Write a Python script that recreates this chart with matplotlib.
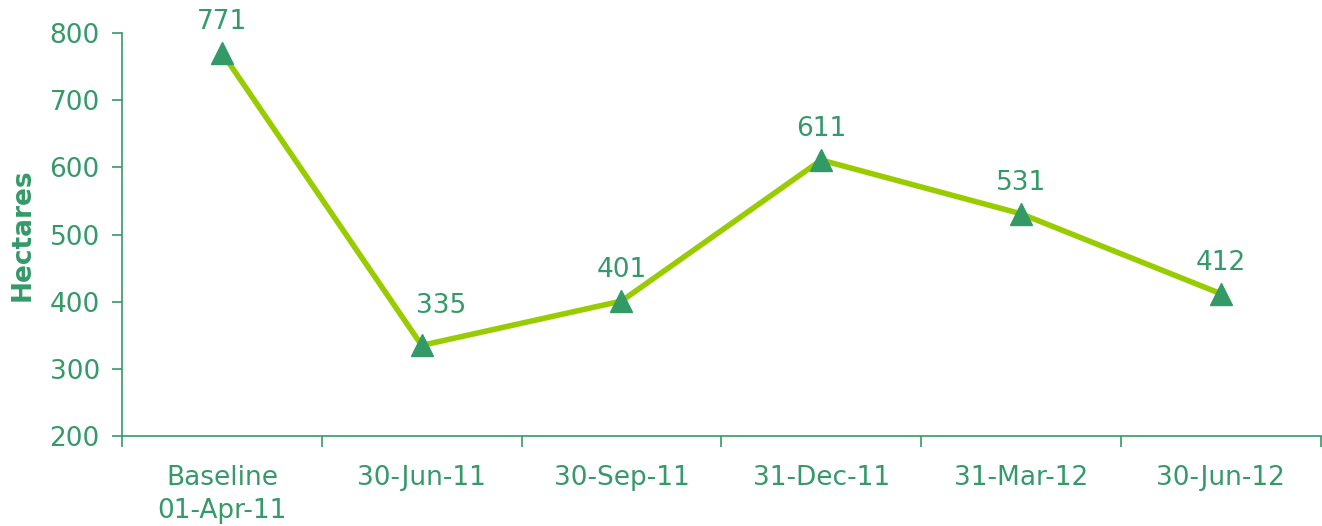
import matplotlib.pyplot as plt
import numpy as np

categories = ["Baseline\n01-Apr-11", "30-Jun-11", "30-Sep-11", "31-Dec-11", "31-Mar-12", "30-Jun-12"]
hectares = [771, 335, 401, 611, 531, 412]

text_green = "#35996A"
line_green = "#99CC00"
marker_green = "#339966"

plt.rcParams['font.family'] = ['DejaVu Sans']

fig = plt.figure(figsize=(13.22, 5.26), dpi=100)
ax = fig.add_axes([0.0923, 0.171, 0.9067, 0.766])

x = np.arange(len(categories))
ax.plot(x, hectares, color=line_green, linewidth=4, zorder=2)
ax.plot(x, hectares, linestyle='none', marker='^', markersize=16,
        color=marker_green, zorder=3)

# label offsets in points (the 335 label is nudged off the line, as in the original)
label_offsets = [(0, 13), (14, 19), (0, 13), (0, 13), (0, 13), (0, 13)]
for xi, v, off in zip(x, hectares, label_offsets):
    ax.annotate(str(v), (xi, v), xytext=off, textcoords='offset points',
                ha='center', va='bottom', fontsize=19, color=text_green)

ax.set_xlim(-0.5, len(categories) - 0.5)
ax.set_ylim(200, 800)
ax.set_yticks(range(200, 801, 100))

# category labels between boundary ticks
ax.set_xticks(np.arange(-0.5, len(categories), 1))
ax.set_xticklabels([])
ax.set_xticks(x, minor=True)
ax.set_xticklabels(categories, minor=True, linespacing=1.35)
ax.tick_params(axis='x', which='minor', length=0, pad=21, labelsize=19, labelcolor=text_green)
ax.tick_params(axis='x', which='major', length=8, width=1.2, color=text_green)
ax.tick_params(axis='y', length=7, width=1.2, color=text_green, labelsize=19,
               labelcolor=text_green, pad=9)

for s in ['top', 'right']:
    ax.spines[s].set_visible(False)
for s in ['left', 'bottom']:
    ax.spines[s].set_color(text_green)
    ax.spines[s].set_linewidth(1.2)

ax.set_ylabel("Hectares", fontsize=19, fontweight='bold', color=text_green, labelpad=10)

fig.savefig("out.png", dpi=100)
